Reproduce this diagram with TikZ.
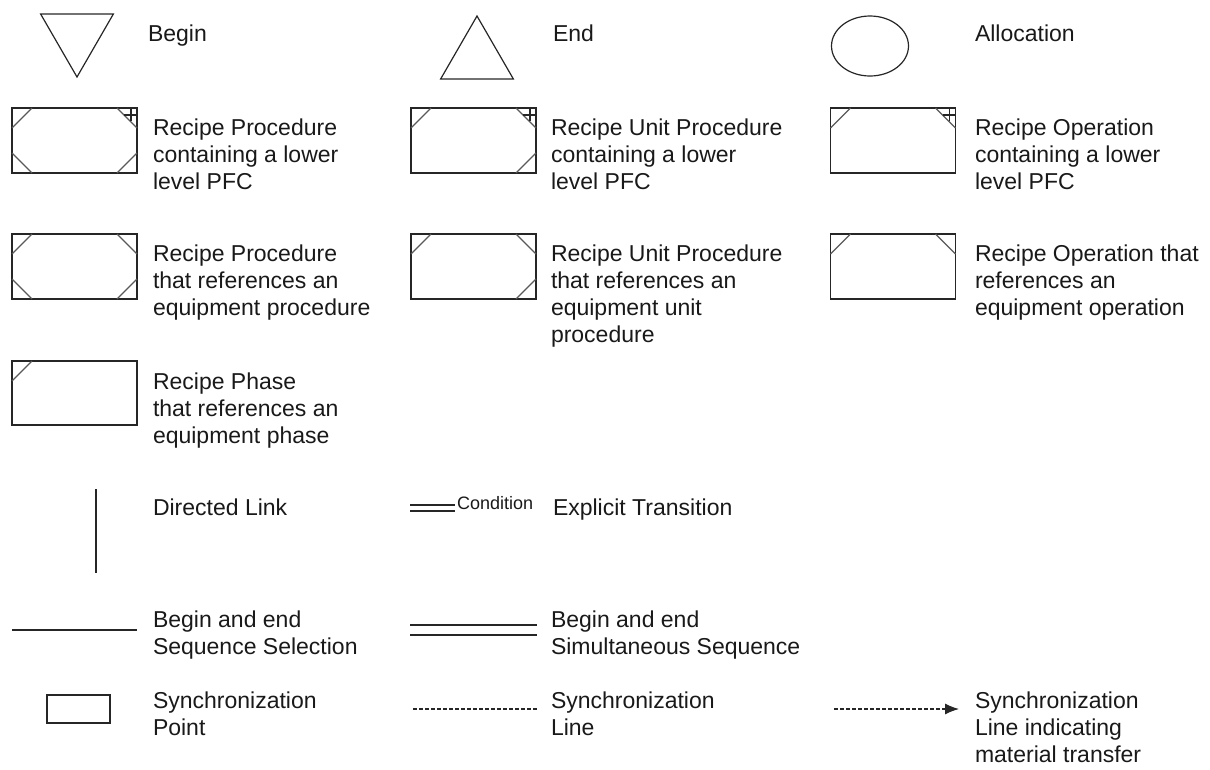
\documentclass[tikz,border=0pt]{standalone}
\usepackage{fontspec}
\setmainfont{Liberation Sans}
\usetikzlibrary{shapes.geometric,arrows.meta,calc}

% corner marks of the PFC recipe element boxes
\newcommand\pfcTL[1]{\draw[cornerline] ($(#1.north west)+(0,20)$) -- ($(#1.north west)+(20,0)$);}
\newcommand\pfcTR[1]{\draw[cornerline] ($(#1.north east)+(-20,0)$) -- ($(#1.north east)+(0,20)$);}
\newcommand\pfcBL[1]{\draw[cornerline] ($(#1.south west)+(0,-20)$) -- ($(#1.south west)+(20,0)$);}
\newcommand\pfcBR[1]{\draw[cornerline] ($(#1.south east)+(-20,0)$) -- ($(#1.south east)+(0,-20)$);}
\newcommand\pfcPlus[1]{\draw[stroke] ($(#1.north east)+(-6,0)$) -- ($(#1.north east)+(-6,13)$)
  ($(#1.north east)+(-13,7)$) -- ($(#1.north east)+(0,7)$);}

\begin{document}
\begin{tikzpicture}[x=1pt,y=-1pt,
  stroke/.style={line width=1.2pt, draw=black!85},
  cornerline/.style={line width=1.1pt, draw=black!65},
  box/.style={stroke, rectangle, minimum width=125pt, minimum height=65pt, inner sep=0pt, outer sep=0pt},
  tri/.style={stroke, regular polygon, regular polygon sides=3, minimum size=84pt, inner sep=0pt, outer sep=0pt},
  lbl/.style={anchor=north west, inner sep=0pt, outer sep=0pt, align=left,
    font=\fontsize{23}{27}\selectfont, text=black!90},
  small/.style={anchor=base west, inner sep=0pt, font=\fontsize{18}{20}\selectfont, text=black!90},
  syncdash/.style={line width=1.1pt, draw=black!85, dash pattern=on 4pt off 2pt}
]
\useasboundingbox (0,0) rectangle (1210,769);

% --- row 1: begin, end, allocation
\node[tri, shape border rotate=180] (begin) at (77,35) {};
\node[lbl] (tbegin) at (148,25) {Begin};
\node[tri] (end) at (477,58) {};
\node[lbl] (tend) at (553,25) {End};
\node[stroke, ellipse, minimum width=77pt, minimum height=60pt, inner sep=0pt] (alloc) at (870,46) {};
\node[lbl] (talloc) at (975,25) {Allocation};

% --- row 2: elements containing a lower level PFC
\node[box] (rp1) at (74.5,140.5) {};
\pfcTL{rp1}\pfcTR{rp1}\pfcBL{rp1}\pfcBR{rp1}\pfcPlus{rp1}
\node[lbl] (trp1) at (153,119) {Recipe Procedure\\containing a lower\\level PFC};

\node[box] (rup1) at (473.5,140.5) {};
\pfcTL{rup1}\pfcTR{rup1}\pfcBR{rup1}\pfcPlus{rup1}
\node[lbl] (trup1) at (551,119) {Recipe Unit Procedure\\containing a lower\\level PFC};

\node[box] (rop1) at (893,140.5) {};
\pfcTL{rop1}\pfcTR{rop1}\pfcPlus{rop1}
\node[lbl] (trop1) at (975,119) {Recipe Operation\\containing a lower\\level PFC};

% --- row 3: elements referencing equipment
\node[box] (rp2) at (74.5,266.5) {};
\pfcTL{rp2}\pfcTR{rp2}\pfcBL{rp2}\pfcBR{rp2}
\node[lbl] (trp2) at (153,245) {Recipe Procedure\\that references an\\equipment procedure};

\node[box] (rup2) at (473.5,266.5) {};
\pfcTL{rup2}\pfcTR{rup2}\pfcBR{rup2}
\node[lbl] (trup2) at (551,245) {Recipe Unit Procedure\\that references an\\equipment unit\\procedure};

\node[box] (rop2) at (893,266.5) {};
\pfcTL{rop2}\pfcTR{rop2}
\node[lbl] (trop2) at (975,245) {Recipe Operation that\\references an\\equipment operation};

% --- row 4: recipe phase
\node[box, minimum height=64pt] (rph) at (74.5,393) {};
\pfcTL{rph}
\node[lbl] (trph) at (153,373) {Recipe Phase\\that references an\\equipment phase};

% --- row 5: links and transitions
\coordinate (dl1) at (96,489);
\coordinate (dl2) at (96,573);
\draw[stroke] (dl1) -- (dl2);
\node[lbl] (tdl) at (153,499) {Directed Link};

\coordinate (et1) at (410,505);
\coordinate (et2) at (455,505);
\coordinate (et3) at (410,511);
\coordinate (et4) at (455,511);
\draw[stroke] (et1) -- (et2) (et3) -- (et4);
\node[small] (cond) at (457,509) {Condition};
\node[lbl] (tet) at (553,499) {Explicit Transition};

% --- row 6: sequence selection and simultaneous sequence
\coordinate (ss1) at (12,630);
\coordinate (ss2) at (137,630);
\draw[stroke] (ss1) -- (ss2);
\node[lbl] (tss) at (153,611) {Begin and end\\Sequence Selection};

\coordinate (sm1) at (410,625);
\coordinate (sm2) at (537,625);
\coordinate (sm3) at (410,635);
\coordinate (sm4) at (537,635);
\draw[stroke] (sm1) -- (sm2) (sm3) -- (sm4);
\node[lbl] (tsm) at (551,611) {Begin and end\\Simultaneous Sequence};

% --- row 7: synchronization
\node[stroke, rectangle, minimum width=63pt, minimum height=28pt, inner sep=0pt] (sp) at (78.5,709) {};
\node[lbl] (tsp) at (153,692) {Synchronization\\Point};

\coordinate (sl1) at (413,709);
\coordinate (sl2) at (537,709);
\draw[syncdash] (sl1) -- (sl2);
\node[lbl] (tsl) at (551,692) {Synchronization\\Line};

\coordinate (sa1) at (834,709);
\coordinate (sa2) at (959,709);
\draw[syncdash, -{Latex[length=14pt,width=11pt]}] (sa1) -- (sa2);
\node[lbl] (tsa) at (975,692) {Synchronization\\Line indicating\\material transfer};
\end{tikzpicture}
\end{document}
